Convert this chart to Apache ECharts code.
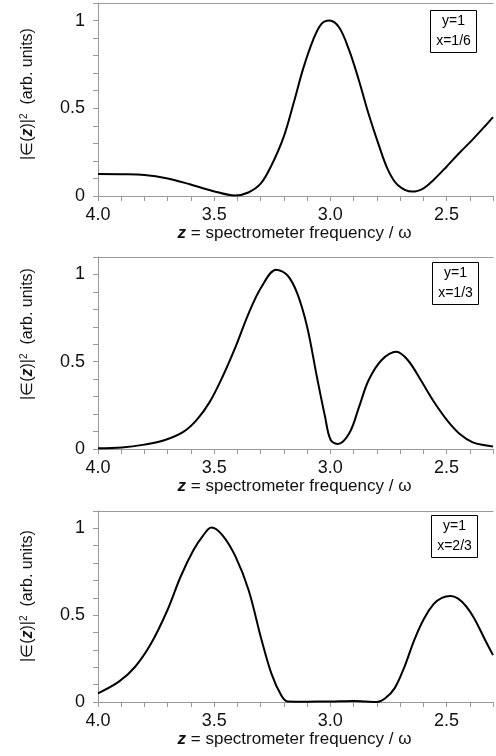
<!DOCTYPE html>
<html><head><meta charset="utf-8">
<script src="https://cdn.jsdelivr.net/npm/echarts@6/dist/echarts.min.js"></script>
<style>html,body{margin:0;padding:0;background:#fff}#c{width:496px;height:756px}</style>
</head><body><div id="c"></div>
<script>
// ---- data ----
const xTickLabels = ['4.0', '3.5', '3.0', '2.5'];
const yTickLabels = ['0', '0.5', '1'];
const panelLabels = [['y=1', 'x=1/6'], ['y=1', 'x=1/3'], ['y=1', 'x=2/3']];

const z1 = [4.0, 3.9, 3.8, 3.7, 3.605, 3.51, 3.41, 3.353, 3.30, 3.255, 3.20, 3.158, 3.116, 3.074, 3.039, 3.004, 2.962, 2.92, 2.878, 2.836, 2.794, 2.752, 2.71, 2.647, 2.599, 2.557, 2.50, 2.446, 2.389, 2.336, 2.3];
const v1 = [0.125, 0.124, 0.12, 0.10, 0.067, 0.03, 0.003, 0.02, 0.07, 0.17, 0.34, 0.53, 0.73, 0.89, 0.98, 1.0, 0.96, 0.834, 0.663, 0.47, 0.30, 0.149, 0.063, 0.025, 0.044, 0.09, 0.167, 0.244, 0.32, 0.396, 0.45];

const z2 = [4.0, 3.897, 3.80, 3.715, 3.631, 3.575, 3.519, 3.464, 3.408, 3.352, 3.296, 3.233, 3.184, 3.142, 3.10, 3.058, 3.023, 2.999, 2.967, 2.918, 2.876, 2.835, 2.779, 2.716, 2.667, 2.611, 2.555, 2.499, 2.443, 2.387, 2.335, 2.3];
const v2 = [0.004, 0.008, 0.025, 0.05, 0.10, 0.167, 0.27, 0.414, 0.585, 0.776, 0.93, 1.027, 0.994, 0.89, 0.70, 0.414, 0.186, 0.053, 0.029, 0.091, 0.243, 0.395, 0.51, 0.557, 0.51, 0.395, 0.272, 0.167, 0.086, 0.038, 0.021, 0.015];

const z3 = [4.0, 3.91, 3.84, 3.771, 3.701, 3.645, 3.589, 3.547, 3.512, 3.464, 3.408, 3.352, 3.296, 3.254, 3.212, 3.184, 3.1, 3.0, 2.9, 2.85, 2.80, 2.765, 2.723, 2.681, 2.639, 2.597, 2.555, 2.52, 2.483, 2.45, 2.415, 2.38, 2.335, 2.3];
const v3 = [0.05, 0.117, 0.203, 0.338, 0.53, 0.72, 0.875, 0.96, 1.005, 0.96, 0.837, 0.645, 0.357, 0.165, 0.04, 0.003, 0.002, 0.003, 0.006, 0.003, 0.0, 0.02, 0.08, 0.203, 0.357, 0.48, 0.565, 0.60, 0.61, 0.595, 0.55, 0.48, 0.36, 0.27];

const zs = [z1, z2, z3];
const vs = [v1, v2, v3];

// ---- layout ----
const FONT = '"Liberation Sans", Arial, sans-serif';
const AX = '#9a9a9a';
const grids = [
  { left: 98, top: 3, width: 406, height: 193 },
  { left: 98, top: 257, width: 406, height: 192 },
  { left: 98, top: 511, width: 406, height: 191 }
];
const yNameCenterY = [94, 334, 596];
const boxes = [[430, 10], [432, 262], [431, 515]];

const xAxes = [], yAxes = [], series = [], graphics = [];
grids.forEach((g, i) => {
  xAxes.push({
    type: 'value', gridIndex: i, min: 2.3, max: 4.0, interval: 0.1, inverse: true,
    axisLine: { show: true, lineStyle: { color: AX, width: 1 } },
    axisTick: { show: true, inside: false, length: 5, lineStyle: { color: AX } },
    splitLine: { show: false },
    axisLabel: {
      margin: 10, color: '#111', fontSize: 18, fontFamily: FONT,
      formatter: v => { const s = (Math.round(v * 10) / 10).toFixed(1); return xTickLabels.includes(s) ? s : ''; }
    },
    name: '{bz|z} = spectrometer frequency / ω',
    nameLocation: 'middle', nameGap: 29,
    nameTextStyle: { color: '#111', fontSize: 17, fontFamily: FONT, padding: [0, 2, 0, 0],
      rich: { bz: { fontWeight: 'bold', fontStyle: 'italic', fontSize: 17, fontFamily: FONT, color: '#111' } } }
  });
  xAxes.push({
    type: 'value', gridIndex: i, min: 2.3, max: 4.0, inverse: true, position: 'top',
    axisLine: { show: true, lineStyle: { color: AX, width: 1 } },
    axisTick: { show: false }, axisLabel: { show: false }, splitLine: { show: false }
  });
  yAxes.push({
    type: 'value', gridIndex: i, min: 0, max: 1.1, interval: 0.1,
    axisLine: { show: true, lineStyle: { color: AX, width: 1 } },
    axisTick: { show: true, length: 5, lineStyle: { color: AX } },
    splitLine: { show: false },
    axisLabel: {
      margin: 13, color: '#111', fontSize: 18, fontFamily: FONT,
      formatter: v => { const s = String(Math.round(v * 10) / 10); return yTickLabels.includes(s) ? s : ''; }
    }
  });
  series.push({
    type: 'line', xAxisIndex: i * 2, yAxisIndex: i, showSymbol: false, smooth: 0.35,
    lineStyle: { color: '#000', width: 2 }, clip: true,
    data: zs[i].map((z, k) => [z, vs[i][k]])
  });
  // y-axis title (rotated)
  graphics.push({
    type: 'text', x: 28, y: yNameCenterY[i], rotation: Math.PI / 2,
    style: {
      text: '|∈({bz|z})|{sup|2}  (arb. units)',
      fill: '#111', font: '16px ' + FONT, align: 'center', verticalAlign: 'middle',
      rich: {
        bz: { fontWeight: 'bold', fontStyle: 'italic', fontSize: 16, fontFamily: FONT, fill: '#111' },
        sup: { fontSize: 10, fontFamily: FONT, fill: '#111', verticalAlign: 'top', padding: [0, 0, 8, 0] }
      }
    }
  });
  const [bx, by] = boxes[i];
  graphics.push({
    type: 'group', left: bx, top: by,
    children: [
      { type: 'rect', shape: { x: 0, y: 0, width: 46, height: 42 }, style: { fill: '#fff', stroke: '#000', lineWidth: 1 } },
      { type: 'text', x: 23, y: 11, style: { text: panelLabels[i][0], fill: '#000', font: '14px ' + FONT, align: 'center', verticalAlign: 'middle' } },
      { type: 'text', x: 23, y: 31, style: { text: panelLabels[i][1], fill: '#000', font: '14px ' + FONT, align: 'center', verticalAlign: 'middle' } }
    ]
  });
});

const chart = echarts.init(document.getElementById('c'), null, { renderer: 'canvas' });
chart.setOption({
  animation: false,
  backgroundColor: '#fff',
  grid: grids,
  xAxis: xAxes,
  yAxis: yAxes,
  series: series,
  graphic: graphics
});
</script></body></html>
